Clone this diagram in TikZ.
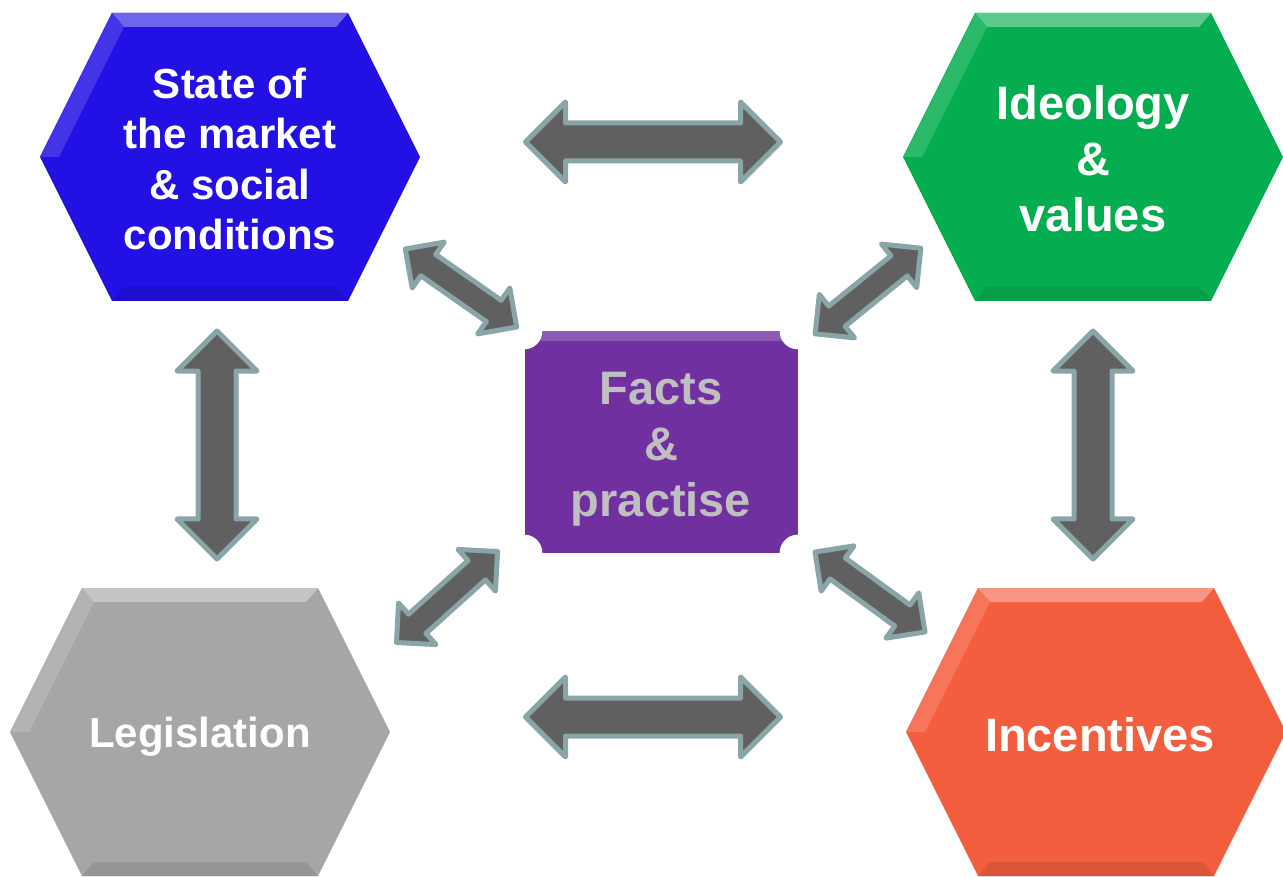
\documentclass[tikz,border=0pt]{standalone}
\usepackage{fontspec}
\setmainfont{Liberation Sans}
\usetikzlibrary{shapes.arrows,calc}

\definecolor{marketblue}{RGB}{34,16,228}
\definecolor{ideagreen}{RGB}{4,174,80}
\definecolor{lawgray}{RGB}{166,166,166}
\definecolor{incorange}{RGB}{243,94,62}
\definecolor{factpurple}{RGB}{112,48,160}
\definecolor{arrowfill}{RGB}{96,96,96}
\definecolor{arrowedge}{RGB}{137,165,168}
\definecolor{factgray}{RGB}{191,191,191}

% hexagon with a light top bevel: #1 centre name, #2 position, #3 colour
\newcommand{\hexbox}[3]{%
  \coordinate (#1) at #2;
  \fill[#3] ($(#1)+(-118,-144)$) -- ($(#1)+(118,-144)$) -- ($(#1)+(190,0)$)
    -- ($(#1)+(118,144)$) -- ($(#1)+(-118,144)$) -- ($(#1)+(-190,0)$) -- cycle;
  \fill[#3!65!white] ($(#1)+(-118,-144)$) -- ($(#1)+(118,-144)$)
    -- ($(#1)+(106,-130)$) -- ($(#1)+(-106,-130)$) -- cycle;
  \fill[#3!85!white] ($(#1)+(-118,-144)$) -- ($(#1)+(-106,-130)$)
    -- ($(#1)+(-171,0)$) -- ($(#1)+(-190,0)$) -- cycle;
  \fill[#3!90!black] ($(#1)+(-118,144)$) -- ($(#1)+(118,144)$)
    -- ($(#1)+(106,130)$) -- ($(#1)+(-106,130)$) -- cycle;
}

\tikzset{
  boxtext/.style={text=white, align=center, font=\bfseries\fontsize{47}{56}\selectfont},
  smalltext/.style={boxtext, font=\bfseries\fontsize{42}{50.5}\selectfont},
  bigarrow/.style={double arrow, draw=arrowedge, fill=arrowfill, line width=5pt,
    line join=round, inner xsep=0pt, inner ysep=16.5pt,
    double arrow head extend=21pt, minimum height=255pt},
  vertarrow/.style={bigarrow, rotate=90, minimum height=228pt},
  diagarrow/.style={bigarrow, inner ysep=10.5pt, double arrow head extend=15pt,
    minimum height=136pt}
}

\begin{document}
\begin{tikzpicture}[x=1pt, y=-1pt]
\useasboundingbox (0,0) rectangle (1283,877);

% the four hexagons
\hexbox{mc}{(230,157)}{marketblue}
\hexbox{ic}{(1093,157)}{ideagreen}
\hexbox{lc}{(200,732)}{lawgray}
\hexbox{nc}{(1096,732)}{incorange}

\node[smalltext] (market) at (230,159) {State of\\the market\\\& social\\conditions};
\node[boxtext] (ideology) at (1093,159) {Ideology\\\&\\values};
\node[smalltext] (legislation) at (200,737) {Legislation};
\node[boxtext] (incentives) at (1100,735) {Incentives};

% centre square with hollow corners
\node[fill=factpurple, minimum width=273pt, minimum height=221pt, inner sep=0pt] (facts) at (661,442) {};
\fill[factpurple!80!white] (facts.north west) rectangle ($(facts.north east)+(0,10)$);
\foreach \c in {north west, north east, south west, south east}
  \fill[white] (facts.\c) circle (18pt);
\node[boxtext, text=factgray] (factstext) at (661,449) {Facts\\\&\\practise};

% arrows between the boxes
\node[bigarrow] (mi) at (653,142) {};
\node[bigarrow] (ln) at (653,717) {};
\node[vertarrow] (ml) at (217,445) {};
\node[vertarrow] (in) at (1093,445) {};
\node[diagarrow, rotate=-35] (mf) at (461,288) {};
\node[diagarrow, rotate=39] (if) at (868,291) {};
\node[diagarrow, rotate=42] (lf) at (447,597) {};
\node[diagarrow, rotate=-36] (nf) at (870,592) {};
\end{tikzpicture}
\end{document}
